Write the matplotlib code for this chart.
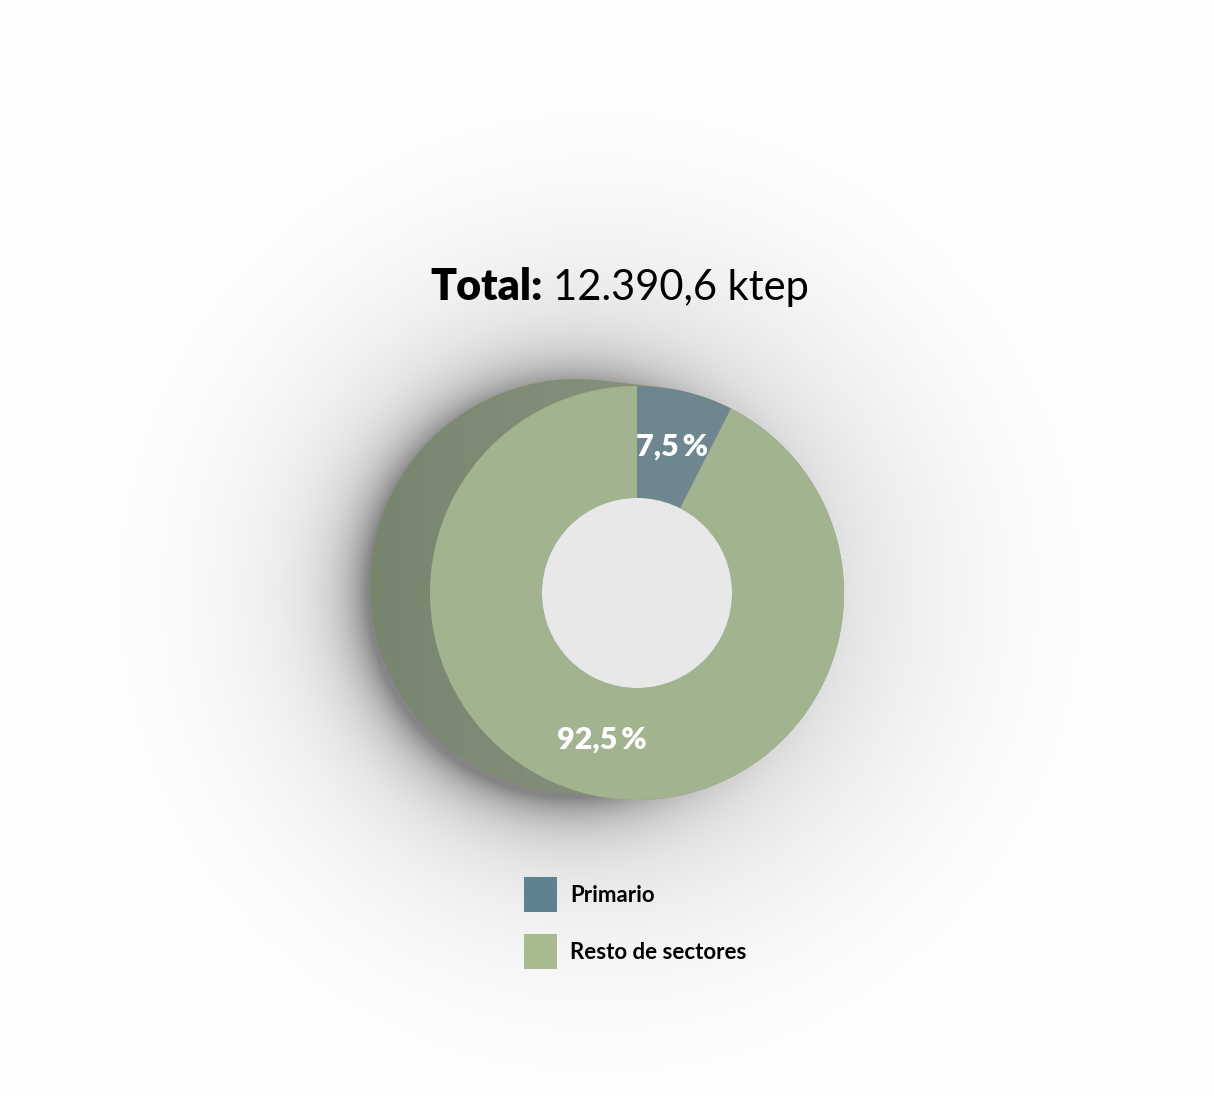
import numpy as np
import matplotlib.pyplot as plt
from matplotlib.patches import Patch, Polygon

# datos
sectores = ["Primario", "Resto de sectores"]
porcentajes = [7.5, 92.5]
total_ktep = "12.390,6"

colores_pie = ["#6e878f", "#a1b38f"]
colores_leyenda = ["#5e8290", "#a7bb8f"]

plt.rcParams['font.family'] = ['Lato', 'DejaVu Sans']

W, H = 1214, 1096
fig = plt.figure(figsize=(W / 100, H / 100), dpi=100)
ax = fig.add_axes([0, 0, 1, 1])
ax.set_xlim(0, W)
ax.set_ylim(0, H)
ax.set_aspect('equal')
ax.axis('off')

# centro del anillo y radios (pixeles, y hacia arriba)
cx, cy = 637, H - 593
R = 207
r_in = 95
v = np.array([-60.0, 7.0])  # desplazamiento de la cara trasera

# fondo con sombra difusa (mas intensa a la izquierda)
yy, xx = np.mgrid[0:H, 0:W]
d = np.clip(np.hypot(xx - 572, yy - 592) - 205, 0, None)
d2 = np.clip(np.hypot(xx - 600, yy - 592) - 205, 0, None)
dark = 100 * np.exp(-d / 28) + 22 * np.exp(-(d2 / 175) ** 2)
gris = (255 - dark) / 255
ax.imshow(np.dstack([gris, gris, gris]), extent=[0, W, 0, H], origin='upper', zorder=0)

# lateral del cilindro (envolvente de las dos caras)
th = np.linspace(0, 2 * np.pi, 721)
u = np.column_stack([np.cos(th), np.sin(th)])
pts = np.array([cx, cy]) + R * u + np.where((u @ v)[:, None] > 0, v, 0)
lateral = Polygon(pts, closed=True, facecolor='none', edgecolor='none', zorder=1)
ax.add_patch(lateral)
grad = np.linspace(0, 1, 300)[None, :]
c0 = np.array([0x78, 0x85, 0x6e]) / 255
c1 = np.array([0x90, 0x9a, 0x84]) / 255
img = c0[None, None, :] * (1 - grad[..., None]) + c1[None, None, :] * grad[..., None]
im = ax.imshow(img, extent=[cx - R - 70, cx + R, cy - R - 10, cy + R + 20],
               origin='upper', zorder=1, aspect='auto')
im.set_clip_path(lateral)

# anillo frontal
wedges, textos, autotextos = ax.pie(
    porcentajes, colors=colores_pie, startangle=90, counterclock=False,
    center=(cx, cy), radius=R, frame=True,
    wedgeprops=dict(width=R - r_in, edgecolor='none', linewidth=0),
    autopct=lambda p: f"{p:.1f}".replace('.', ',') + "\u2009%",
    pctdistance=0.73)
for w in wedges:
    w.set_zorder(2)
for t in autotextos:
    x, y = t.get_position()
    ax.text(x, y, t.get_text(), ha='center', va='center', color='white',
            fontsize=22, fontweight='heavy', zorder=4)
    t.set_visible(False)
ax.add_patch(plt.Circle((cx, cy), r_in, facecolor='#e8e8e8', edgecolor='none', zorder=3))

ax.set_xlim(0, W)
ax.set_ylim(0, H)
ax.axis('off')

# titulo
ax.text(543, H - 300, "Total:", ha='right', va='baseline', fontsize=31,
        fontweight='heavy', color='black', zorder=5)
ax.text(553, H - 300, f"{total_ktep} ktep", ha='left', va='baseline', fontsize=30,
        color='black', zorder=5)

# leyenda
handles = [Patch(facecolor=c, edgecolor='none') for c in colores_leyenda]
leg = ax.legend(handles, sectores, loc='upper left',
                bbox_to_anchor=(524, H - 877), bbox_transform=ax.transData,
                frameon=False, fontsize=16, handlelength=1.49, handleheight=2.05,
                handletextpad=0.6, labelspacing=1.0, borderpad=0, borderaxespad=0)
for t in leg.get_texts():
    t.set_fontweight('bold')

fig.savefig("out.png", dpi=100)
